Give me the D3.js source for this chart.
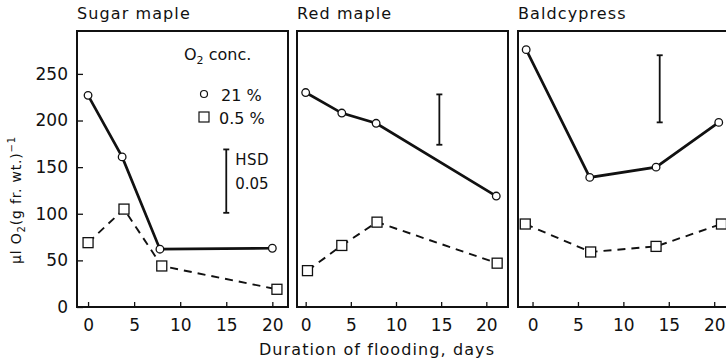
<!DOCTYPE html>
<html><head><meta charset="utf-8">
<script src="https://cdn.jsdelivr.net/npm/d3@7"></script>
<style>
html,body{margin:0;padding:0;background:#fff;}
text{font-family:"DejaVu Sans",sans-serif;fill:#111;}
</style></head>
<body><svg id="c" width="726" height="363"></svg>
<script>
// ---- data ----
const panelTitles = ["Sugar maple", "Red maple", "Baldcypress"];
const xTicks = [0, 5, 10, 15, 20];
const yTicks = [0, 50, 100, 150, 200, 250];
// 21% O2 (circles)
const circleDays = [[0, 3.7, 7.8, 20], [0, 4, 7.8, 21.1], [-0.7, 6.3, 13.6, 20.5]];
const circleVals = [[227, 161, 62, 63], [230, 208, 197, 119], [276, 139, 150, 198]];
// 0.5% O2 (squares)
const squareDays = [[0, 3.9, 8, 20.5], [0.2, 4, 7.9, 21.2], [-0.8, 6.4, 13.6, 20.8]];
const squareVals = [[69, 105, 44, 19], [39, 66, 91, 47], [89, 59, 65, 89]];
// HSD 0.05 bars
const hsdDay = [15, 14.8, 14.0];
const hsdLow = [101, 174, 198];
const hsdHigh = [169, 228, 270];
const legendTitle = "conc.";
const legendLabels = ["21 %", "0.5 %"];
const xLabel = "Duration of flooding, days";

// ---- layout ----
const svg = d3.select("#c");
const plotTop = 31, plotBottom = 307;
const tickFont = "Liberation Sans";
const panels = [
  {x0: 77, x1: 288, dom: [-1.2, 21.7]},
  {x0: 297, x1: 508, dom: [-0.96, 22.4]},
  {x0: 518, x1: 736, dom: [-1.6, 22.4]}
];
const y = d3.scaleLinear().domain([0, 296]).range([plotBottom, plotTop]);

panels.forEach((p, i) => {
  const x = d3.scaleLinear().domain(p.dom).range([p.x0, p.x1]);
  const g = svg.append("g");
  g.append("rect").attr("x", p.x0).attr("y", plotTop).attr("width", p.x1 - p.x0).attr("height", plotBottom - plotTop)
    .attr("fill", "none").attr("stroke", "#111").attr("stroke-width", 2);
  const xa = d3.axisBottom(x).tickValues(xTicks).tickSizeInner(-5).tickSizeOuter(0).tickPadding(12);
  const xg = g.append("g").attr("transform", `translate(0,${plotBottom})`).call(xa);
  xg.select(".domain").remove();
  xg.selectAll("line").attr("stroke", "#111").attr("stroke-width", 1.3);
  xg.selectAll("text").attr("font-size", 17).attr("font-family", tickFont).attr("fill", "#111");
  if (i === 0) {
    const ya = d3.axisLeft(y).tickValues(yTicks).tickSizeInner(-6).tickSizeOuter(0).tickPadding(9);
    const yg = g.append("g").attr("transform", `translate(${p.x0},0)`).call(ya);
    yg.select(".domain").remove();
    yg.selectAll("line").attr("stroke", "#111").attr("stroke-width", 1.3);
    yg.selectAll("text").attr("font-size", 17).attr("font-family", tickFont).attr("fill", "#111");
  }
  g.append("text").attr("x", p.x0).attr("y", 19).attr("font-size", 16)
    .attr("letter-spacing", 1.1).text(panelTitles[i]);

  const line = d3.line().x(d => x(d[0])).y(d => y(d[1]));
  const sq = d3.zip(squareDays[i], squareVals[i]);
  const ci = d3.zip(circleDays[i], circleVals[i]);
  g.append("path").attr("d", line(sq)).attr("fill", "none").attr("stroke", "#111")
    .attr("stroke-width", 1.9).attr("stroke-dasharray", "8,6");
  g.append("path").attr("d", line(ci)).attr("fill", "none").attr("stroke", "#111")
    .attr("stroke-width", 2.7);
  g.selectAll("rect.sq").data(sq).enter().append("rect").attr("class", "sq")
    .attr("x", d => x(d[0]) - 5).attr("y", d => y(d[1]) - 5).attr("width", 10).attr("height", 10)
    .attr("fill", "#fff").attr("stroke", "#111").attr("stroke-width", 1.3);
  g.selectAll("circle.ci").data(ci).enter().append("circle").attr("class", "ci")
    .attr("cx", d => x(d[0])).attr("cy", d => y(d[1])).attr("r", 3.8)
    .attr("fill", "#fff").attr("stroke", "#111").attr("stroke-width", 1.3);
  const hx = x(hsdDay[i]);
  const hb = g.append("g").attr("stroke", "#111").attr("stroke-width", 1.8);
  hb.append("line").attr("x1", hx).attr("x2", hx).attr("y1", y(hsdLow[i])).attr("y2", y(hsdHigh[i]));
  hb.append("line").attr("x1", hx - 3).attr("x2", hx + 3).attr("y1", y(hsdLow[i])).attr("y2", y(hsdLow[i]));
  hb.append("line").attr("x1", hx - 3).attr("x2", hx + 3).attr("y1", y(hsdHigh[i])).attr("y2", y(hsdHigh[i]));
  if (i === 0) {
    g.append("text").attr("x", hx + 9).attr("y", 165).attr("font-size", 15).attr("letter-spacing", 0.5).text("HSD");
    g.append("text").attr("x", hx + 9).attr("y", 189).attr("font-size", 15).text("0.05");
    const lt = g.append("text").attr("x", 184).attr("y", 60).attr("font-size", 16);
    lt.append("tspan").text("O");
    lt.append("tspan").attr("font-size", 11).attr("dy", 4).text("2");
    lt.append("tspan").attr("dy", -4).text(" " + legendTitle);
    g.append("circle").attr("cx", 204).attr("cy", 94).attr("r", 3.5)
      .attr("fill", "#fff").attr("stroke", "#111").attr("stroke-width", 1.2);
    g.append("text").attr("x", 221).attr("y", 101).attr("font-size", 16).text(legendLabels[0]);
    g.append("rect").attr("x", 199).attr("y", 112).attr("width", 10).attr("height", 10)
      .attr("fill", "#fff").attr("stroke", "#111").attr("stroke-width", 1.2);
    g.append("text").attr("x", 219).attr("y", 124).attr("font-size", 16).text(legendLabels[1]);
  }
});

svg.append("text").attr("x", 377).attr("y", 355).attr("text-anchor", "middle").attr("font-size", 16)
  .attr("letter-spacing", 1.1).text(xLabel);
const yl = svg.append("text").attr("transform", "translate(21,200) rotate(-90)").attr("text-anchor", "middle")
  .attr("font-size", 14).attr("letter-spacing", 0.8);
yl.append("tspan").text("\u00b5l O");
yl.append("tspan").attr("font-size", 10).attr("dy", 4).text("2");
yl.append("tspan").attr("dy", -4).text("(g fr. wt.)");
yl.append("tspan").attr("font-size", 10).attr("dy", -6).text("\u22121");
</script></body></html>
